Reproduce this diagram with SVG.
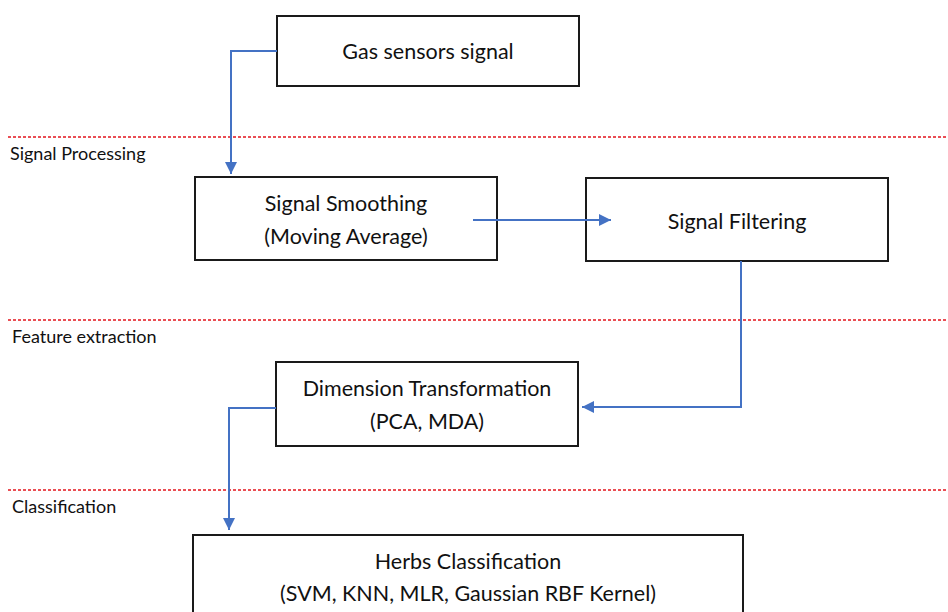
<svg xmlns="http://www.w3.org/2000/svg" width="948" height="612" viewBox="0 0 948 612">
  <style>
    .box { fill: #ffffff; stroke: #1a1a1a; stroke-width: 2; }
    .txt { font-family: Lato, "Open Sans", sans-serif; font-size: 21.5px; fill: #111111; text-anchor: middle; dominant-baseline: central; }
    .stage { font-family: Lato, "Open Sans", sans-serif; font-size: 18px; fill: #111111; dominant-baseline: central; }
    .sep { stroke: #e3141c; stroke-width: 1.4; stroke-dasharray: 3 2; fill: none; }
    .flow { stroke: #4472c4; stroke-width: 2; fill: none; }
  </style>
  <defs>
    <marker id="arrowhead" viewBox="0 0 10 10" refX="10" refY="5" markerWidth="12" markerHeight="12" markerUnits="userSpaceOnUse" orient="auto">
      <path d="M0,0 L10,5 L0,10 Z" fill="#4472c4"/>
    </marker>
  </defs>

  <!-- stage separators -->
  <g id="separators">
    <line class="sep" x1="8" y1="137" x2="948" y2="137"/>
    <line class="sep" x1="8" y1="320" x2="948" y2="320"/>
    <line class="sep" x1="8" y1="490" x2="948" y2="490"/>
  </g>

  <!-- stage labels -->
  <g id="stage-labels">
    <text class="stage" x="10" y="153">Signal Processing</text>
    <text class="stage" x="12" y="336">Feature extraction</text>
    <text class="stage" x="12" y="506">Classification</text>
  </g>

  <!-- nodes -->
  <g id="gas-sensors">
    <rect class="box" x="277" y="16" width="302" height="70"/>
    <text class="txt" x="428" y="51">Gas sensors signal</text>
  </g>
  <g id="signal-smoothing">
    <rect class="box" x="195" y="177" width="302" height="83"/>
    <text class="txt" x="346" y="203">Signal Smoothing</text>
    <text class="txt" x="346" y="236">(Moving Average)</text>
  </g>
  <g id="signal-filtering">
    <rect class="box" x="586" y="178" width="302" height="83"/>
    <text class="txt" x="737" y="221">Signal Filtering</text>
  </g>
  <g id="dimension-transformation">
    <rect class="box" x="276" y="362" width="302" height="84"/>
    <text class="txt" x="427" y="388">Dimension Transformation</text>
    <text class="txt" x="427" y="421">(PCA, MDA)</text>
  </g>
  <g id="herbs-classification">
    <rect class="box" x="193" y="535" width="550" height="90"/>
    <text class="txt" x="468" y="561">Herbs Classification</text>
    <text class="txt" x="468" y="593">(SVM, KNN, MLR, Gaussian RBF Kernel)</text>
  </g>

  <!-- connectors -->
  <g id="connectors">
    <polyline class="flow" points="277,51 231,51 231,174" marker-end="url(#arrowhead)"/>
    <polyline class="flow" points="473,220 611,220" marker-end="url(#arrowhead)"/>
    <polyline class="flow" points="741,261 741,407 582,407" marker-end="url(#arrowhead)"/>
    <polyline class="flow" points="276,408 229,408 229,530" marker-end="url(#arrowhead)"/>
  </g>
</svg>
